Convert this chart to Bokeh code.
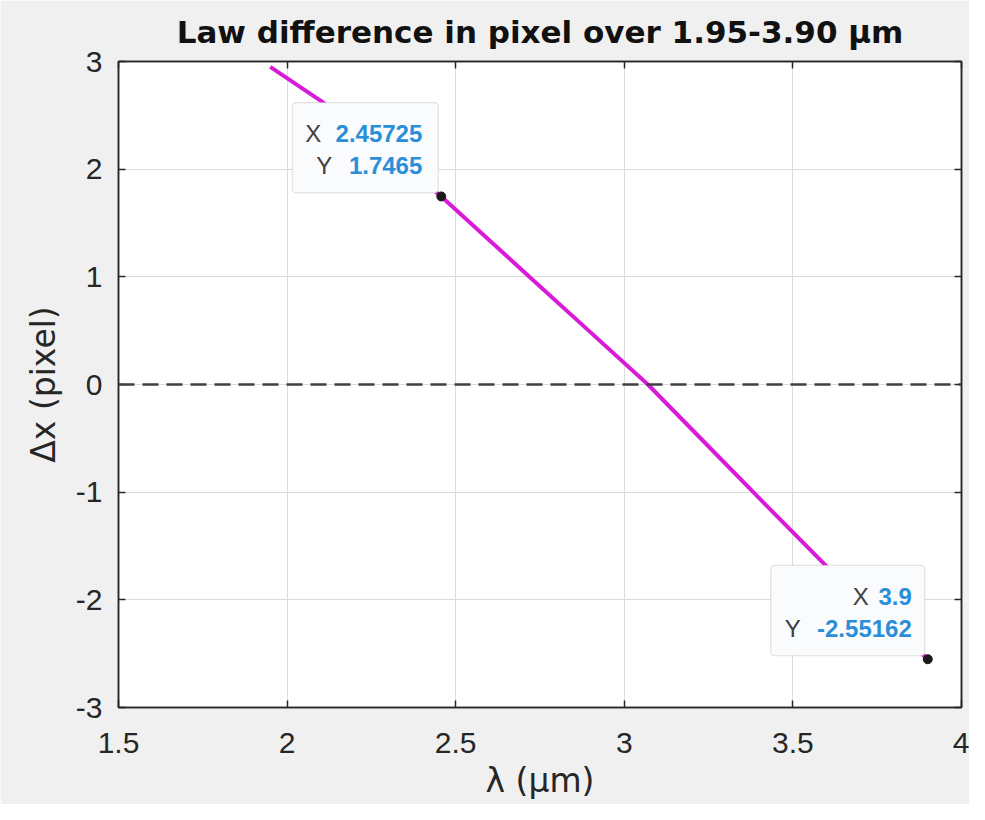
from bokeh.plotting import figure
from bokeh.models import LinearAxis, Span, BoxAnnotation, FixedTicker, ColumnDataSource, Range1d
from bokeh.core.properties import value
from bokeh.embed import file_html
from bokeh.resources import INLINE

# ---- data ----
wavelength = [1.95, 2.10, 2.28, 2.45725, 2.72, 2.90, 3.07, 3.25, 3.40, 3.60, 3.90]
delta_x = [2.95, 2.634, 2.21, 1.7465, 0.997, 0.484, 0.0, -0.576, -1.056, -1.69, -2.55162]

tip_x = [2.45725, 3.9]
tip_y = [1.7465, -2.55162]
tip_x_text = ["2.45725", "3.9"]
tip_y_text = ["1.7465", "-2.55162"]

x_ticks = [1.5, 2, 2.5, 3, 3.5, 4]
x_tick_labels = ["1.5", "2", "2.5", "3", "3.5", "4"]
y_ticks = [-3, -2, -1, 0, 1, 2, 3]
y_tick_labels = ["-3", "-2", "-1", "0", "1", "2", "3"]

title_text = "Law difference in pixel over 1.95-3.90 \u03bcm"
x_label = "\u03bb (\u03bcm)"
y_label = "\u0394x (pixel)"

# ---- layout / style ----
FONT = "Liberation Sans"
W, H = 969, 804
BL, BR, BT, BB = 118, 8, 60, 97
XR = (1.5, 4.0)
YR = (-3.0, 3.0)
xs = (W - BL - BR) / (XR[1] - XR[0])
ys = (H - BT - BB) / (YR[1] - YR[0])

p = figure(width=W, height=H, output_backend="svg", toolbar_location=None,
           x_range=Range1d(*XR), y_range=Range1d(*YR),
           min_border_left=BL, min_border_right=BR, min_border_top=BT, min_border_bottom=BB,
           background_fill_color="white", border_fill_color="#f0f0f0",
           outline_line_color="#262626", outline_line_width=1.5)

p.title.text = title_text
p.title.text_font = "DejaVu Sans"
p.title.text_font_size = "31px"
p.title.text_font_style = "bold"
p.title.text_color = "#111111"
p.title.align = "center"
p.title.standoff = 23

def style_axis(ax, ticks, labels, show_labels=True):
    ax.ticker = FixedTicker(ticks=ticks)
    ax.axis_line_color = "#262626"
    ax.axis_line_width = 1.5
    ax.major_tick_line_color = "#262626"
    ax.major_tick_line_width = 1.5
    ax.major_tick_in = 7
    ax.major_tick_out = 0
    ax.minor_tick_line_color = None
    ax.major_label_text_font = FONT
    ax.major_label_text_color = "#262626"
    if show_labels:
        ax.major_label_overrides = {t: l for t, l in zip(ticks, labels)}
        ax.major_label_text_font_size = "30px"
    else:
        ax.major_label_overrides = {t: "" for t in ticks}
        ax.major_label_text_font_size = "10px"
        ax.major_label_standoff = 0

style_axis(p.xaxis[0], x_ticks, x_tick_labels)
style_axis(p.yaxis[0], y_ticks, y_tick_labels)
p.xaxis[0].major_label_standoff = 25
p.yaxis[0].major_label_standoff = 16
p.xaxis[0].axis_label = x_label
p.yaxis[0].axis_label = y_label
for ax in (p.xaxis[0], p.yaxis[0]):
    ax.axis_label_text_font = "DejaVu Sans"
    ax.axis_label_text_font_size = "33px"
    ax.axis_label_text_font_style = "normal"
    ax.axis_label_text_color = "#262626"
p.xaxis[0].axis_label_standoff = 5
p.yaxis[0].axis_label_standoff = 10

top_ax = LinearAxis()
right_ax = LinearAxis()
style_axis(top_ax, x_ticks, x_tick_labels, show_labels=False)
style_axis(right_ax, y_ticks, y_tick_labels, show_labels=False)
p.add_layout(top_ax, "above")
p.add_layout(right_ax, "right")

p.xgrid.ticker = FixedTicker(ticks=x_ticks)
p.ygrid.ticker = FixedTicker(ticks=y_ticks)
p.grid.grid_line_color = "#dcdcdc"
p.grid.grid_line_width = 1

# zero reference
p.add_layout(Span(location=0, dimension="width", line_color="#404040",
                  line_width=2.5, line_dash="16 8"))

# law difference curve
src = ColumnDataSource(dict(x=wavelength, y=delta_x))
p.line("x", "y", source=src, line_color="#d81bd8", line_width=4)

# data tips
box_left_px = [-149, -157]
for tx, ty, lpx in zip(tip_x, tip_y, box_left_px):
    p.add_layout(BoxAnnotation(left=tx + lpx / xs, right=tx - 3 / xs,
                               top=ty + 94 / ys, bottom=ty + 3.5 / ys,
                               fill_color="#fafbfd", fill_alpha=1.0,
                               line_color="#a0a0a0", line_width=1.2,
                               border_radius=4, level="annotation"))

val_src = ColumnDataSource(dict(
    x=[tip_x[0], tip_x[0], tip_x[1], tip_x[1]],
    y=[tip_y[0], tip_y[0], tip_y[1], tip_y[1]],
    text=[tip_x_text[0], tip_y_text[0], tip_x_text[1], tip_y_text[1]],
    xo=[-19, -19, -16, -16],
    yo=[-63, -31, -63, -31],
))
lab_src = ColumnDataSource(dict(
    x=[tip_x[0], tip_x[0], tip_x[1], tip_x[1]],
    y=[tip_y[0], tip_y[0], tip_y[1], tip_y[1]],
    text=["X", "Y", "X", "Y"],
    xo=[-120, -109, -59, -127],
    yo=[-63, -31, -63, -31],
))
p.text("x", "y", text="text", source=val_src, x_offset="xo", y_offset="yo",
       text_align="right", text_baseline="middle", text_font=value(FONT),
       text_font_size="24px", text_font_style="bold", text_color="#2a8fd8",
       level="overlay")
p.text("x", "y", text="text", source=lab_src, x_offset="xo", y_offset="yo",
       text_align="right", text_baseline="middle", text_font=value(FONT),
       text_font_size="24px", text_color="#404040", level="overlay")

p.scatter(tip_x, tip_y, size=9, color="#1a1a1a", level="overlay")

open("out.html", "w").write(file_html(p, INLINE))
